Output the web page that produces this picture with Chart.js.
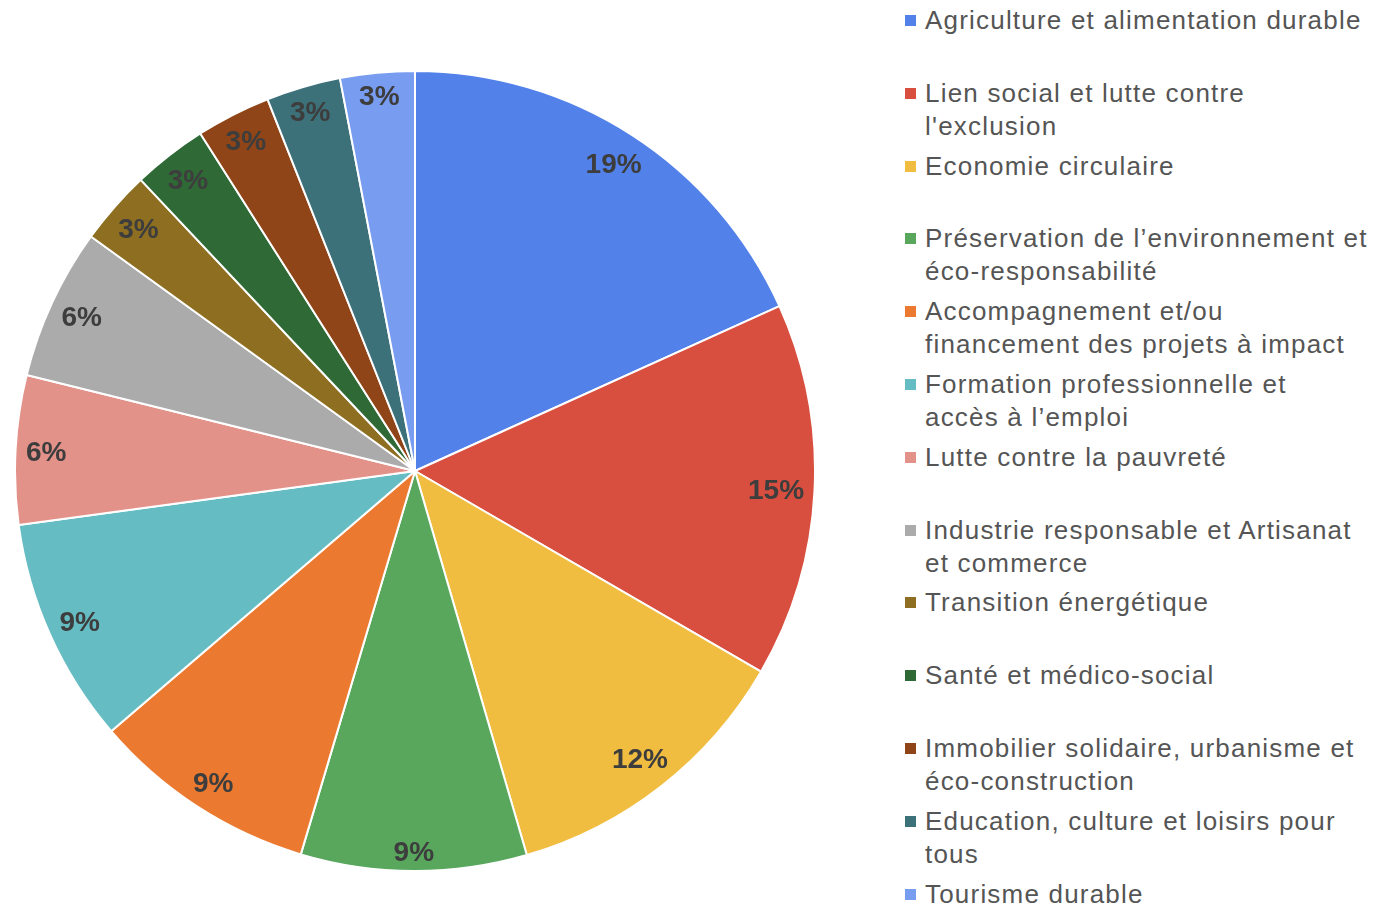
<!DOCTYPE html>
<html>
<head>
<meta charset="utf-8">
<script src="https://cdn.jsdelivr.net/npm/chart.js@4/dist/chart.umd.min.js"></script>
<style>
  html, body { margin: 0; padding: 0; background: #fff; }
  body { width: 1378px; height: 907px; position: relative; overflow: hidden; font-family: "Liberation Sans", Arial, sans-serif; }
  #pieBox { position: absolute; left: 15px; top: 71px; width: 800px; height: 800px; }
  #legend { position: absolute; left: 0; top: 0; }
  .item { position: absolute; left: 905px; font-size: 26px; line-height: 33px; color: #555; white-space: nowrap; letter-spacing: 1.2px; }
  .item .sw { position: absolute; left: 0; top: 11px; width: 11px; height: 11px; }
  .item .txt { position: absolute; left: 20px; top: 0; }
</style>
</head>
<body>
<div id="pieBox"><canvas id="pie"></canvas></div>
<div id="legend"></div>
<script>
// catégories (lignes du libellé telles qu'affichées dans la légende)
const categories = [
  ['Agriculture et alimentation durable'],
  ['Lien social et lutte contre', "l'exclusion"],
  ['Economie circulaire'],
  ['Préservation de l’environnement et', 'éco-responsabilité'],
  ['Accompagnement et/ou', 'financement des projets à impact'],
  ['Formation professionnelle et', 'accès à l’emploi'],
  ['Lutte contre la pauvreté'],
  ['Industrie responsable et Artisanat', 'et commerce'],
  ['Transition énergétique'],
  ['Santé et médico-social'],
  ['Immobilier solidaire, urbanisme et', 'éco-construction'],
  ['Education, culture et loisirs pour', 'tous'],
  ['Tourisme durable']
];
const shares = [18.2, 15.1, 12.1, 9.1, 9.1, 9.1, 6.0, 6.1, 3.0, 3.0, 3.0, 3.0, 3.0];
// étiquettes affichées sur le camembert
const shownLabels = ['19%', '15%', '12%', '9%', '9%', '9%', '6%', '6%', '3%', '3%', '3%', '3%', '3%'];
const colors = ['#5282E9', '#D84F40', '#F0BD40', '#58A75D', '#EB7A30', '#66BCC3', '#E3928A',
                '#ABABAB', '#8E6F21', '#2F6A36', '#8F4517', '#3C717A', '#789CF0'];

// étiquettes % dans les secteurs : la boîte du texte reste à ~10px du bord
const sliceLabels = {
  id: 'sliceLabels',
  afterDatasetsDraw(chart) {
    const ctx = chart.ctx;
    const meta = chart.getDatasetMeta(0);
    const capH = 20;
    ctx.save();
    ctx.font = 'bold 28px "Liberation Sans", Arial, sans-serif';
    ctx.fillStyle = '#3d3d3d';
    ctx.textAlign = 'center';
    ctx.textBaseline = 'alphabetic';
    meta.data.forEach((arc, i) => {
      const p = arc.getProps(['x', 'y', 'startAngle', 'endAngle', 'outerRadius'], true);
      const mid = (p.startAngle + p.endAngle) / 2;
      const hw = ctx.measureText(shownLabels[i]).width / 2;
      const hh = capH / 2;
      const c = Math.cos(mid), s = Math.sin(mid);
      const r = p.outerRadius - 10 - (hw * Math.abs(c) + hh * Math.abs(s));
      ctx.fillText(shownLabels[i], p.x + c * r, p.y + s * r + hh);
    });
    ctx.restore();
  }
};

new Chart(document.getElementById('pie'), {
  type: 'pie',
  data: {
    labels: categories,
    datasets: [{
      data: shares,
      backgroundColor: colors,
      borderColor: '#ffffff',
      borderWidth: 2,
      radius: 400
    }]
  },
  options: {
    responsive: true,
    maintainAspectRatio: false,
    animation: false,
    layout: { padding: 0 },
    plugins: {
      legend: { display: false },
      tooltip: { enabled: false }
    }
  },
  plugins: [sliceLabels]
});

// légende HTML
const legend = document.getElementById('legend');
categories.forEach((lines, i) => {
  const item = document.createElement('div');
  item.className = 'item';
  item.style.top = (4 + i * 72.8) + 'px';
  const sw = document.createElement('span');
  sw.className = 'sw';
  sw.style.background = colors[i];
  const txt = document.createElement('span');
  txt.className = 'txt';
  txt.innerHTML = lines.join('<br>');
  item.appendChild(sw);
  item.appendChild(txt);
  legend.appendChild(item);
});
</script>
</body>
</html>
